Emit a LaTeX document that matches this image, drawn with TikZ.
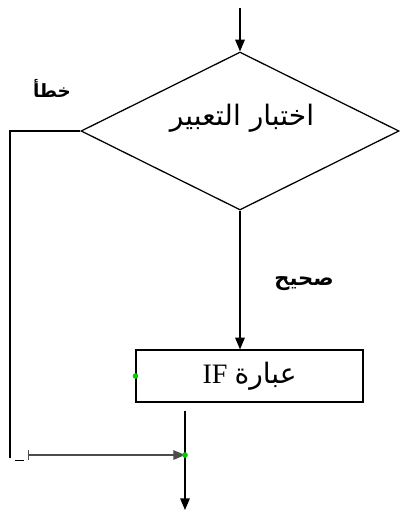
\documentclass[tikz,border=0pt]{standalone}
\usepackage{fontspec}
\setmainfont{Liberation Serif}
\newfontfamily\arabicfont[Script=Arabic]{DejaVu Sans}
\TeXXeTstate=1
\usetikzlibrary{arrows,shapes.geometric}

\begin{document}
\begin{tikzpicture}[>=triangle 45,line width=0.9pt]
            \useasboundingbox (0,0) rectangle (10.025,-12.75);

            \node[draw,diamond,aspect=2,minimum width=7.95cm,minimum height=3.95cm,inner sep=0pt] (Test) at (6.0,-3.275) {};
            \node (TestText) at (6.05,-2.95) {\arabicfont\fontsize{20}{24}\selectfont\beginR اختبار التعبير\endR};
            \node[draw,minimum width=5.675cm,minimum height=1.3cm] (Statement) at (6.24,-9.4)
                {\fontsize{20}{24}\selectfont\beginR{\arabicfont عبارة} \beginL IF\endL\endR};

            \node (False) at (1.3,-2.2) {\arabicfont\fontsize{13}{15}\selectfont\bfseries\beginR خطأ\endR};
            \node (True) at (7.6,-7.1) {\arabicfont\fontsize{15}{18}\selectfont\bfseries\beginR صحيح\endR};

            \coordinate (Entry) at (6.0,-0.2);
            \coordinate (Corner) at (0.25,-11.45);
            \coordinate (Join) at (4.625,-11.375);
            \coordinate (Start) at (0.7,-11.375);
            \coordinate (Exit) at (4.625,-12.75);

            \draw[->,draw] (Entry) to (Test.north);
            \draw[->,draw] (Test.south) to (Test.south |- Statement.north);
            \draw[draw] (Test.west) -| (Corner);
            \draw[draw] (0.38,-11.52) -- (0.6,-11.52);
            \draw[|->,draw,black!70] (Start) to (Join);
            \draw[->,draw] ([yshift=-0.2cm]Statement.south -| Join) -- (Join) -- (Exit);

            \fill[green!80!black] (Statement.west) circle (2pt);
            \fill[green!80!black] (Join) circle (2pt);
        \end{tikzpicture}
\end{document}
